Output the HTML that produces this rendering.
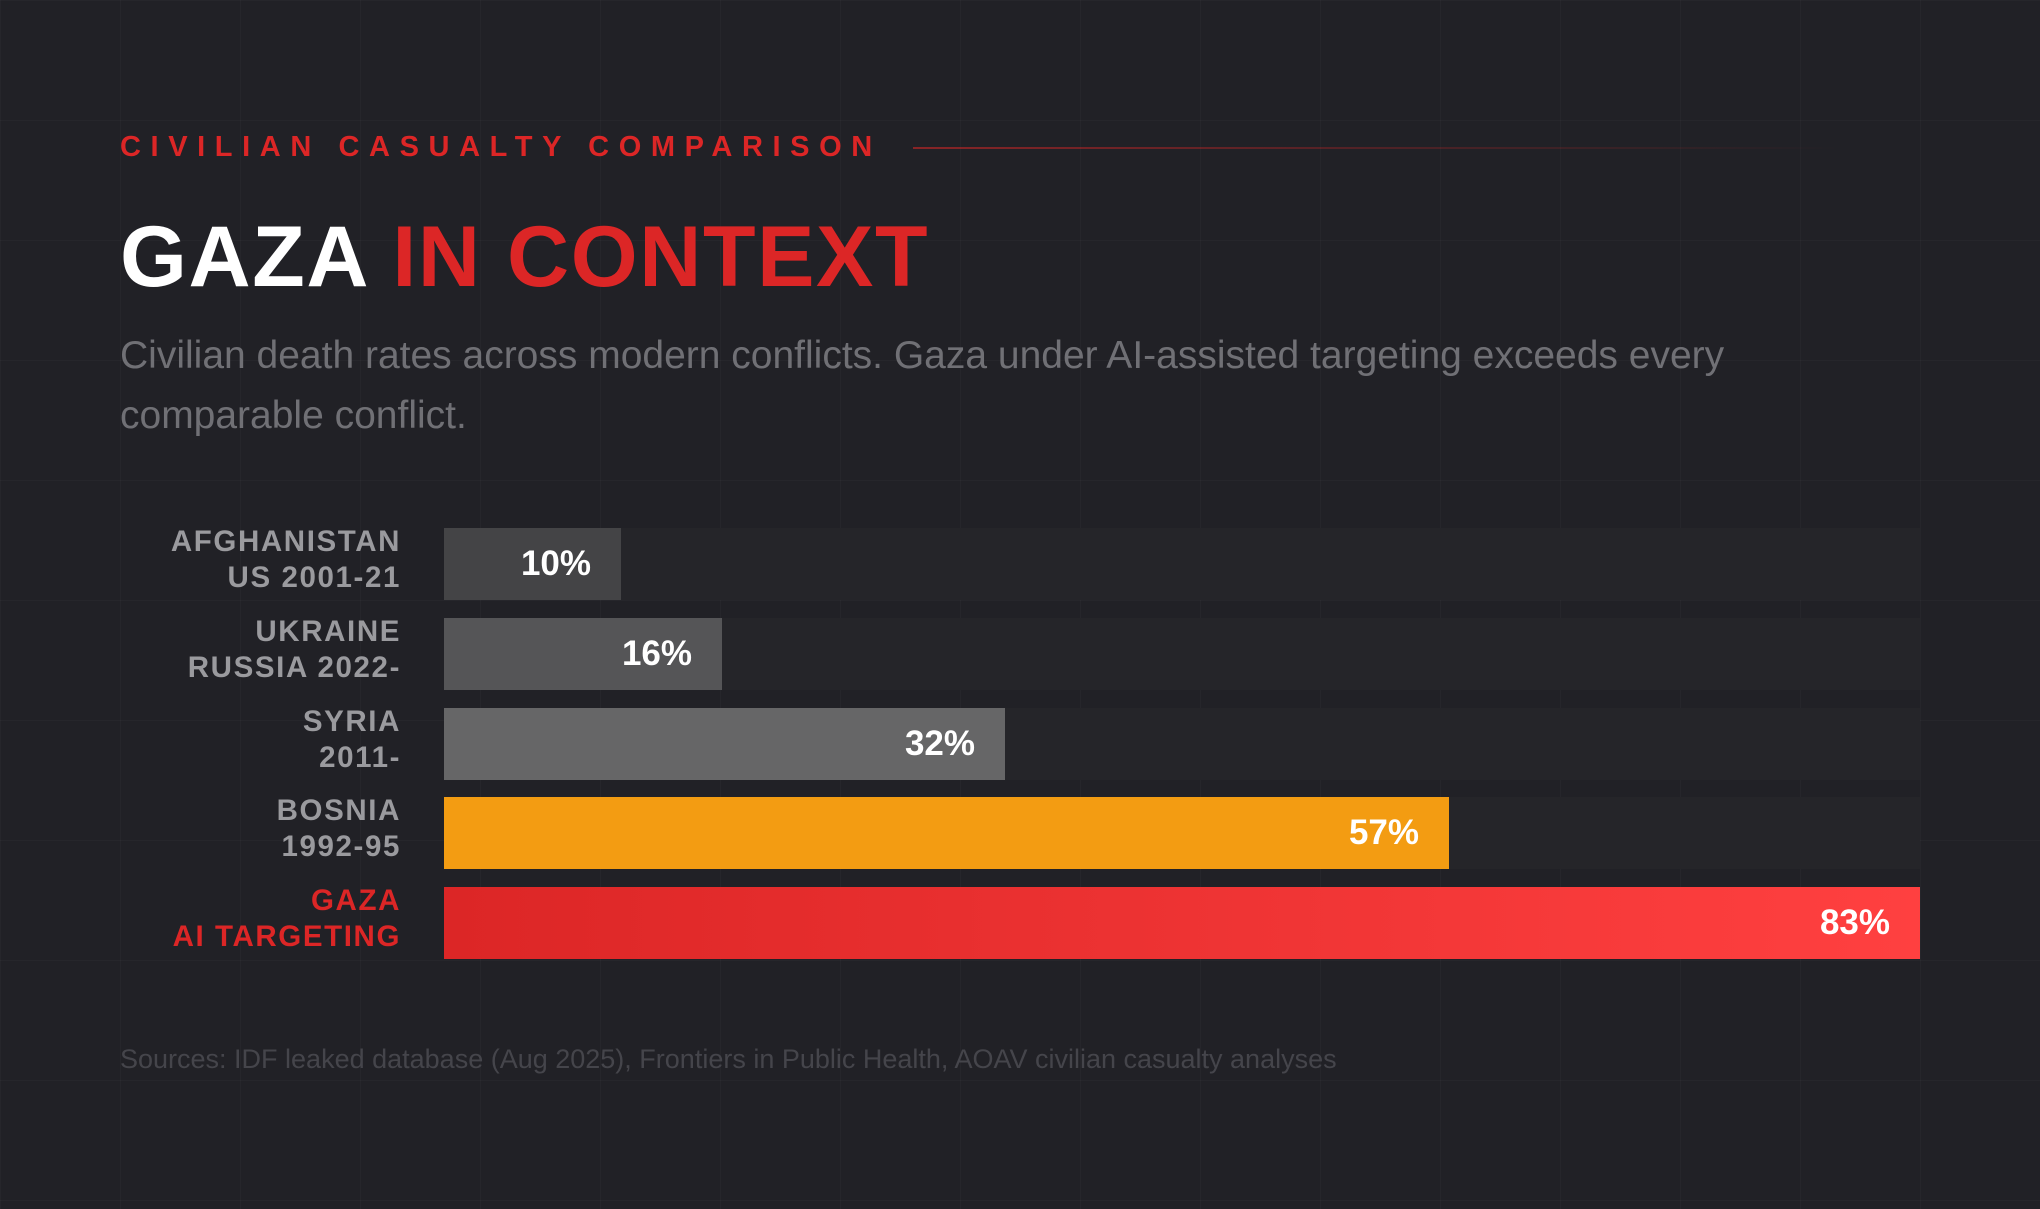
<!DOCTYPE html>
<html><head><meta charset="utf-8"><style>
*{margin:0;padding:0;box-sizing:border-box}
body{width:2040px;height:1209px;overflow:hidden;background:#212126;font-family:"Liberation Sans",sans-serif;position:relative;
background-image:linear-gradient(rgba(255,255,255,0.025) 1px,transparent 1px),linear-gradient(90deg,rgba(255,255,255,0.025) 1px,transparent 1px);
background-size:120px 120px;background-position:0 0}
.abs{position:absolute}
.kicker{left:120px;top:131px;font-size:29px;font-weight:bold;color:#dc2626;letter-spacing:9.6px;white-space:nowrap}
.kline{left:913px;top:147px;width:925px;height:2px;background:linear-gradient(90deg,rgba(220,38,38,0.55),rgba(220,38,38,0.25) 50%,rgba(220,38,38,0))}
.title{left:120px;top:207px;font-size:86px;font-weight:bold;color:#fff;white-space:nowrap;letter-spacing:1.6px;line-height:100px}
.title span{color:#dc2626}
.desc{left:120px;top:326px;width:1800px;font-size:39px;line-height:60px;color:#707075;white-space:nowrap}
.track{left:444px;width:1476px;height:72px;background:#252529}
.bar{left:444px;height:72px;color:#fff;font-weight:bold;font-size:35px;text-align:right;padding-right:30px;line-height:72px}
.lab{left:0;width:401px;text-align:right;font-weight:bold;font-size:29.5px;letter-spacing:1.6px;line-height:36px;color:#9a9a9e}
.src{left:120px;top:1044px;font-size:27px;color:#45454b;white-space:nowrap}
</style></head><body>
<div class="abs kicker">CIVILIAN CASUALTY COMPARISON</div>
<div class="abs kline"></div>
<div class="abs title">GAZA <span>IN CONTEXT</span></div>
<div class="abs desc">Civilian death rates across modern conflicts. Gaza under AI-assisted targeting exceeds every<br>comparable conflict.</div>

<div class="abs track" style="top:528px"></div>
<div class="abs track" style="top:618px"></div>
<div class="abs track" style="top:708px"></div>
<div class="abs track" style="top:797px"></div>
<div class="abs track" style="top:887px"></div>

<div class="abs bar" style="top:528px;width:177px;background:#444446">10%</div>
<div class="abs bar" style="top:618px;width:278px;background:#555557">16%</div>
<div class="abs bar" style="top:708px;width:561px;background:#666667">32%</div>
<div class="abs bar" style="top:797px;width:1005px;background:#f39c12">57%</div>
<div class="abs bar" style="top:887px;width:1476px;background:linear-gradient(90deg,#dc2626,#ff4040)">83%</div>

<div class="abs lab" style="top:524px">AFGHANISTAN<br>US 2001-21</div>
<div class="abs lab" style="top:614px">UKRAINE<br>RUSSIA 2022-</div>
<div class="abs lab" style="top:704px">SYRIA<br>2011-</div>
<div class="abs lab" style="top:793px">BOSNIA<br>1992-95</div>
<div class="abs lab" style="top:883px;color:#dc2626">GAZA<br>AI TARGETING</div>

<div class="abs src">Sources: IDF leaked database (Aug 2025), Frontiers in Public Health, AOAV civilian casualty analyses</div>
</body></html>
